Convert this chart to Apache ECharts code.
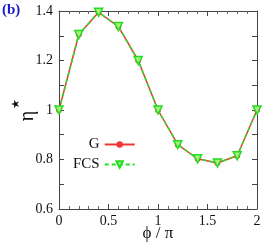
<!DOCTYPE html>
<html><head><meta charset="utf-8">
<script src="https://cdn.jsdelivr.net/npm/echarts@6/dist/echarts.min.js"></script>
<style>html,body{margin:0;padding:0;background:#fff}#c{width:265px;height:245px}</style>
</head><body><div id="c"></div>
<script>
var phi = [0, 0.2, 0.4, 0.6, 0.8, 1.0, 1.2, 1.4, 1.6, 1.8, 2.0];
var etaG = [1.0, 1.305, 1.395, 1.337, 1.200, 1.0, 0.860, 0.803, 0.786, 0.815, 1.0];
var etaFCS = [1.0, 1.305, 1.395, 1.337, 1.200, 1.0, 0.860, 0.803, 0.786, 0.815, 1.0];
var xTicks = [0, 0.5, 1, 1.5, 2];
var yTicks = [0.6, 0.8, 1, 1.2, 1.4];

function pairs(xs, ys){ return xs.map(function(x,i){return [x, ys[i]];}); }
var serif = 'Liberation Serif';
var frame = '#444';
var chart = echarts.init(document.getElementById('c'), null, {renderer:'canvas'});
var xbase = {type:'value', min:0, max:2, interval:0.5, gridIndex:0,
  axisLine:{show:true, onZero:false, lineStyle:{color:frame, width:1}},
  axisTick:{show:true, inside:true, length:5, lineStyle:{color:frame}},
  minorTick:{show:true, splitNumber:5, length:3, lineStyle:{color:'#666'}},
  splitLine:{show:false}};
var ybase = {type:'value', min:0.6, max:1.4, interval:0.2, gridIndex:0,
  axisLine:{show:true, onZero:false, lineStyle:{color:frame, width:1}},
  axisTick:{show:true, inside:true, length:5, lineStyle:{color:frame}},
  minorTick:{show:true, splitNumber:2, length:5, lineStyle:{color:frame}},
  splitLine:{show:false}};
chart.setOption({
  animation:false,
  grid:{left:59, right:8, top:11, bottom:36, containLabel:false, outerBoundsMode:'none'},
  xAxis:[
    Object.assign({}, xbase, {position:'bottom',
      name:'ϕ / π', nameLocation:'middle', nameGap:16, nameMoveOverlap:false,
      nameTextStyle:{fontFamily:serif, fontSize:17, color:'#111'},
      axisLabel:{show:true, fontFamily:serif, fontSize:14, color:'#111', margin:5,
        formatter:function(v){return xTicks.indexOf(v)>=0 ? String(v) : '';}}}),
    Object.assign({}, xbase, {position:'top', axisLabel:{show:false}})
  ],
  yAxis:[
    Object.assign({}, ybase, {position:'left',
      axisLabel:{show:true, fontFamily:serif, fontSize:14, color:'#111', margin:6,
        formatter:function(v){var t=yTicks.filter(function(y){return Math.abs(y-v)<1e-6;}); return t.length? String(t[0]) : '';}}}),
    Object.assign({}, ybase, {position:'right', axisLabel:{show:false}})
  ],
  legend:{
    orient:'vertical', left:68, top:132, align:'right', itemWidth:30, itemHeight:8, itemGap:5,
    textStyle:{fontFamily:serif, fontSize:15, color:'#111', padding:[0,0,0,0]},
    data:['G','FCS']
  },
  graphic:[
    {type:'text', left:2, top:3, style:{text:'(b)', font:'bold 15px "Liberation Serif"', fill:'#1a1acc'}},
    {type:'text', x:28, y:116, rotation:Math.PI/2, style:{text:'η', font:'20px "Liberation Serif"', fill:'#111', align:'center', verticalAlign:'middle'}},
    {type:'text', x:16, y:104, rotation:Math.PI/2, style:{text:'★', font:'11px "DejaVu Sans"', fill:'#111', align:'center', verticalAlign:'middle'}}
  ],
  series:[
    {name:'G', type:'line', xAxisIndex:0, yAxisIndex:0, data:pairs(phi, etaG),
      symbol:'circle', symbolSize:6, color:'#f03535',
      lineStyle:{color:'#f03535', width:1.5}, itemStyle:{color:'#f03535'}, z:2},
    {name:'FCS', type:'line', xAxisIndex:0, yAxisIndex:0, data:pairs(phi, etaFCS),
      symbol:'triangle', symbolRotate:180, symbolSize:8, color:'#22e022',
      lineStyle:{color:'#22e022', width:1.5, type:[4,3]},
      itemStyle:{color:'#aaf07a', borderColor:'#22dd22', borderWidth:1.5}, z:3}
  ]
});
</script></body></html>
